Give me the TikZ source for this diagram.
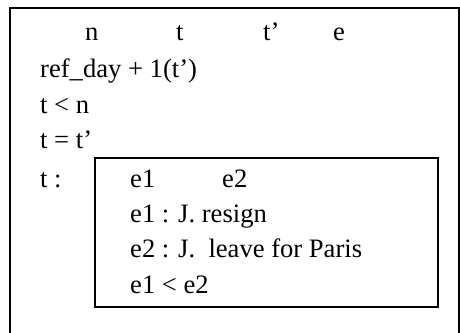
\documentclass[tikz,border=0pt]{standalone}
\usepackage{fontspec}
\setmainfont{Liberation Serif}
\usepackage{tikz}
\usetikzlibrary{positioning}

\begin{document}
\begin{tikzpicture}[
  x=1pt, y=-1pt,
  every node/.style={anchor=base west, inner sep=0pt, font=\fontsize{26.6}{30}\selectfont},
  drsbox/.style={draw, line width=1.6pt}
]
\useasboundingbox (0,0) rectangle (460,332);
\clip (0,0) rectangle (460,332);
% outer drs
\draw[drsbox] (10,8) rectangle (459,345);
\node (refn) at (85,40) {n};
\node (reft) at (176,40) {t};
\node (reftp) at (263,40) {t'};
\node (refe) at (333,40) {e};
\node (cday) at (40,77) {ref\_day + 1(t')};
\node (cless) at (40,113) {t < n};
\node (ceq) at (40,148) {t = t'};
\node (tcol) at (40,187) {t :};
% inner drs
\draw[drsbox, line width=1.4pt] (95,158) rectangle (438,307);
\node (refea) at (130,187) {e1};
\node (refeb) at (222,187) {e2};
\node (cres) at (130,222) {e1 : J. resign};
\node (cpar) at (130,257) {e2 : J.\ \ leave for Paris};
\node (cord) at (130,293) {e1 < e2};
\end{tikzpicture}
\end{document}
